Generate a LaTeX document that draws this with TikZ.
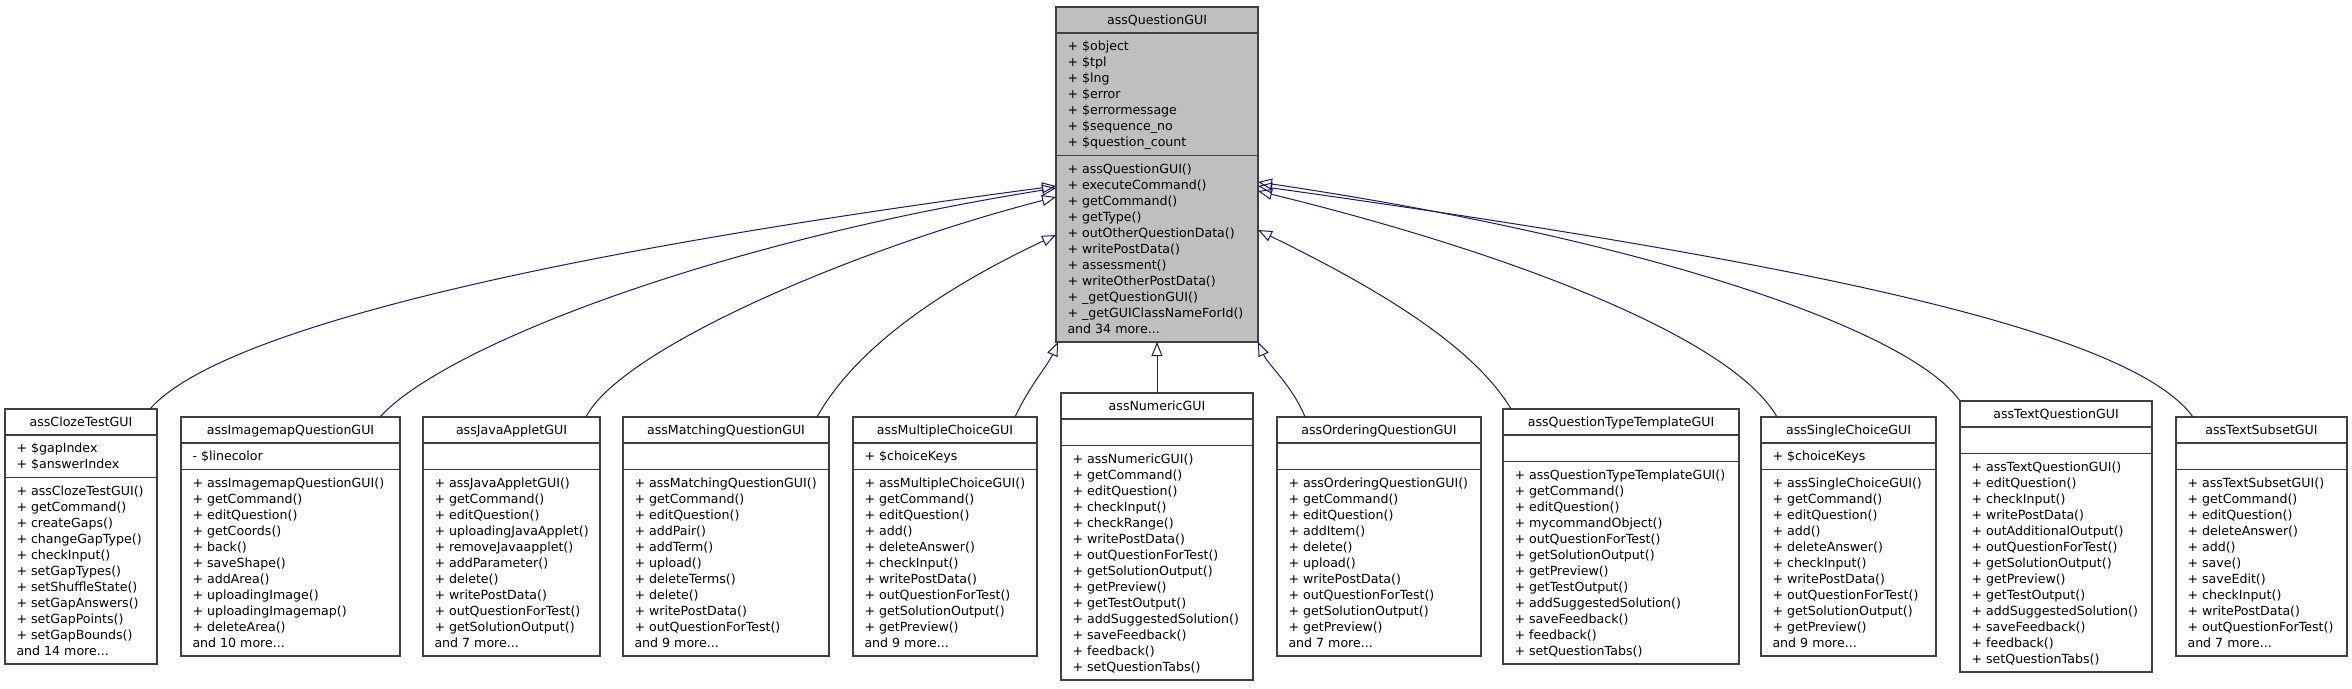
\documentclass[tikz,border=0pt]{standalone}
\usepackage{fontspec}
\setmainfont{DejaVu Sans}
\usetikzlibrary{arrows.meta,calc}
\definecolor{edgeblue}{HTML}{191970}
\definecolor{qgray}{HTML}{BFBFBF}
\definecolor{boxline}{HTML}{404040}
\newcommand\memberfont{\fontsize{12.6pt}{16pt}\selectfont\lineskiplimit=-50pt\lineskip=0pt}
\newcommand\mstrut{\rule{0pt}{12pt}}
\def\clsfill{white}
\tikzset{
 classbox/.style={draw=boxline, line width=1.3pt, fill=\clsfill, inner sep=0pt, outer sep=0pt, anchor=north west},
 sepline/.style={draw=boxline, line width=1.3pt},
 membertext/.style={font=\memberfont, align=left, inner sep=0pt, outer sep=0pt, anchor=north west},
 titletext/.style={membertext, align=center, anchor=north},
 inh/.style={draw=edgeblue, line width=1pt, -{Triangle[open, length=14pt, width=11pt, line width=1pt]}},
}
\newcommand\umlclass[9]{%
 \pgfmathsetmacro\ctsep{#4+26}%
 \pgfmathsetmacro\casep{\ctsep+16*max(#5,1)+10.5}%
 \pgfmathsetmacro\cbot{\casep+16*#6+10.5}%
 \pgfmathsetmacro\cwd{#3-#2}%
 \pgfmathsetmacro\cht{\cbot-#4}%
 \node[classbox, minimum width=\cwd pt, minimum height=\cht pt] (#1) at (#2,#4) {};
 \draw[sepline] (#2,\ctsep) -- (#3,\ctsep);
 \draw[sepline] (#2,\casep) -- (#3,\casep);
 \node[titletext] (#1-title) at ({(#2+#3)/2},#4+5.5) {\mstrut#7};
 \node[membertext] (#1-attr) at (#2+11.5,\ctsep+5.5) {\mstrut#8};
 \node[membertext] (#1-meth) at (#2+11.5,\casep+5.5) {\mstrut#9};
}
\begin{document}
\begin{tikzpicture}[x=1pt,y=-1pt]
\fill[white] (0,0) rectangle (2352,688);
\useasboundingbox (0,0) rectangle (2352,688);

\def\clsfill{qgray}
\umlclass{qgui}{1056}{1258}{7}{7}{11}{assQuestionGUI}
 {+ \$object\\+ \$tpl\\+ \$lng\\+ \$error\\+ \$errormessage\\+ \$sequence\_no\\+ \$question\_count}
 {+ assQuestionGUI()\\+ executeCommand()\\+ getCommand()\\+ getType()\\+ outOtherQuestionData()\\+ writePostData()\\+ assessment()\\+ writeOtherPostData()\\+ \_getQuestionGUI()\\+ \_getGUIClassNameForId()\\and 34 more...}
\def\clsfill{white}

\umlclass{cloze}{5}{157}{409}{2}{11}{assClozeTestGUI}
 {+ \$gapIndex\\+ \$answerIndex}
 {+ assClozeTestGUI()\\+ getCommand()\\+ createGaps()\\+ changeGapType()\\+ checkInput()\\+ setGapTypes()\\+ setShuffleState()\\+ setGapAnswers()\\+ setGapPoints()\\+ setGapBounds()\\and 14 more...}

\umlclass{imagemap}{181}{400}{417}{1}{11}{assImagemapQuestionGUI}
 {- \$linecolor}
 {+ assImagemapQuestionGUI()\\+ getCommand()\\+ editQuestion()\\+ getCoords()\\+ back()\\+ saveShape()\\+ addArea()\\+ uploadingImage()\\+ uploadingImagemap()\\+ deleteArea()\\and 10 more...}

\umlclass{java}{423}{600}{417}{0}{11}{assJavaAppletGUI}
 {}
 {+ assJavaAppletGUI()\\+ getCommand()\\+ editQuestion()\\+ uploadingJavaApplet()\\+ removeJavaapplet()\\+ addParameter()\\+ delete()\\+ writePostData()\\+ outQuestionForTest()\\+ getSolutionOutput()\\and 7 more...}

\umlclass{matching}{623}{829}{417}{0}{11}{assMatchingQuestionGUI}
 {}
 {+ assMatchingQuestionGUI()\\+ getCommand()\\+ editQuestion()\\+ addPair()\\+ addTerm()\\+ upload()\\+ deleteTerms()\\+ delete()\\+ writePostData()\\+ outQuestionForTest()\\and 9 more...}

\umlclass{multi}{853}{1037}{417}{1}{11}{assMultipleChoiceGUI}
 {+ \$choiceKeys}
 {+ assMultipleChoiceGUI()\\+ getCommand()\\+ editQuestion()\\+ add()\\+ deleteAnswer()\\+ checkInput()\\+ writePostData()\\+ outQuestionForTest()\\+ getSolutionOutput()\\+ getPreview()\\and 9 more...}

\umlclass{numeric}{1061}{1253}{393}{0}{14}{assNumericGUI}
 {}
 {+ assNumericGUI()\\+ getCommand()\\+ editQuestion()\\+ checkInput()\\+ checkRange()\\+ writePostData()\\+ outQuestionForTest()\\+ getSolutionOutput()\\+ getPreview()\\+ getTestOutput()\\+ addSuggestedSolution()\\+ saveFeedback()\\+ feedback()\\+ setQuestionTabs()}

\umlclass{ordering}{1277}{1481}{417}{0}{11}{assOrderingQuestionGUI}
 {}
 {+ assOrderingQuestionGUI()\\+ getCommand()\\+ editQuestion()\\+ addItem()\\+ delete()\\+ upload()\\+ writePostData()\\+ outQuestionForTest()\\+ getSolutionOutput()\\+ getPreview()\\and 7 more...}

\umlclass{qtt}{1503}{1739}{409}{0}{12}{assQuestionTypeTemplateGUI}
 {}
 {+ assQuestionTypeTemplateGUI()\\+ getCommand()\\+ editQuestion()\\+ mycommandObject()\\+ outQuestionForTest()\\+ getSolutionOutput()\\+ getPreview()\\+ getTestOutput()\\+ addSuggestedSolution()\\+ saveFeedback()\\+ feedback()\\+ setQuestionTabs()}

\umlclass{single}{1761}{1936}{417}{1}{11}{assSingleChoiceGUI}
 {+ \$choiceKeys}
 {+ assSingleChoiceGUI()\\+ getCommand()\\+ editQuestion()\\+ add()\\+ deleteAnswer()\\+ checkInput()\\+ writePostData()\\+ outQuestionForTest()\\+ getSolutionOutput()\\+ getPreview()\\and 9 more...}

\umlclass{textq}{1960}{2152}{401}{0}{13}{assTextQuestionGUI}
 {}
 {+ assTextQuestionGUI()\\+ editQuestion()\\+ checkInput()\\+ writePostData()\\+ outAdditionalOutput()\\+ outQuestionForTest()\\+ getSolutionOutput()\\+ getPreview()\\+ getTestOutput()\\+ addSuggestedSolution()\\+ saveFeedback()\\+ feedback()\\+ setQuestionTabs()}

\umlclass{subset}{2176}{2347}{417}{0}{11}{assTextSubsetGUI}
 {}
 {+ assTextSubsetGUI()\\+ getCommand()\\+ editQuestion()\\+ deleteAnswer()\\+ add()\\+ save()\\+ saveEdit()\\+ checkInput()\\+ writePostData()\\+ outQuestionForTest()\\and 7 more...}

% inheritance connectors
\draw[inh] ($(cloze.north east)+(-7,0)$) .. controls (210,340) and (480,262) .. ($(qgui.north west)+(0,179)$);
\draw[inh] ($(imagemap.north east)+(-20,0)$) .. controls (440,350) and (700,245) .. ($(qgui.north west)+(0,181)$);
\draw[inh] ($(java.north east)+(-14,0)$) .. controls (620,350) and (850,250) .. ($(qgui.north west)+(0,190)$);
\draw[inh] ($(matching.north east)+(-12,0)$) .. controls (860,340) and (960,280) .. ($(qgui.north west)+(0,228)$);
\draw[inh] ($(multi.north east)+(-22,0)$) .. controls (1030,385) and (1048,365) .. ($(qgui.south west)+(2,0)$);
\draw[inh] (numeric.north) -- (qgui.south);
\draw[inh] ($(ordering.north west)+(28,0)$) .. controls (1292,385) and (1268,365) .. ($(qgui.south east)+(0,0)$);
\draw[inh] ($(qtt.north west)+(8,0)$) .. controls (1470,340) and (1360,280) .. ($(qgui.north east)+(0,223)$);
\draw[inh] ($(single.north west)+(16,0)$) .. controls (1730,335) and (1500,250) .. ($(qgui.north east)+(0,184)$);
\draw[inh] (textq.north west) .. controls (1910,330) and (1650,240) .. ($(qgui.north east)+(0,175)$);
\draw[inh] ($(subset.north west)+(17,0)$) .. controls (2130,330) and (1800,262) .. ($(qgui.north east)+(0,179)$);
\end{tikzpicture}
\end{document}
